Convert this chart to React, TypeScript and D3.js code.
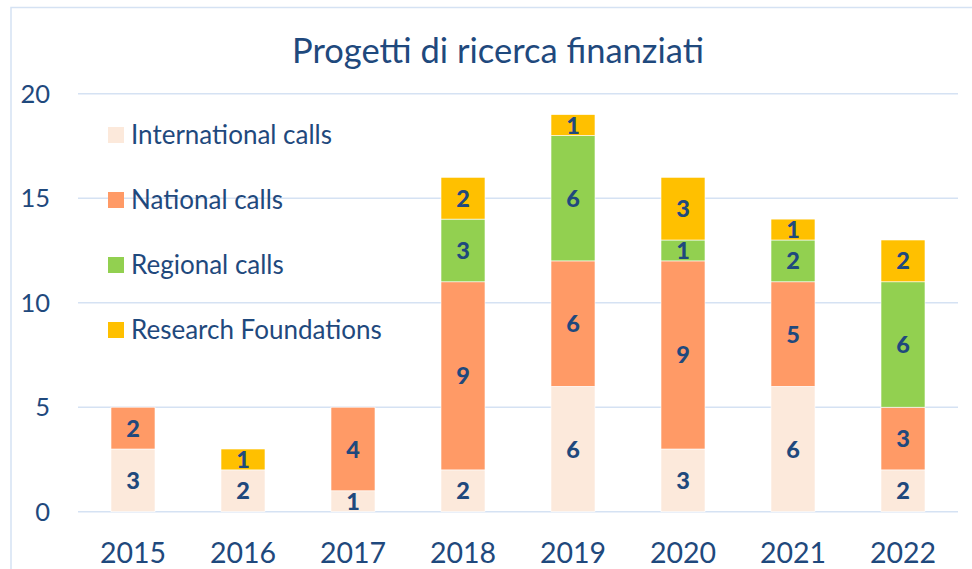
import React from "react";
import * as d3 from "d3";

const years = ["2015", "2016", "2017", "2018", "2019", "2020", "2021", "2022"];
const seriesNames = ["International calls", "National calls", "Regional calls", "Research Foundations"];
const international = [3, 2, 1, 2, 6, 3, 6, 2];
const national = [2, 0, 4, 9, 6, 9, 5, 3];
const regional = [0, 0, 0, 3, 6, 1, 2, 6];
const research = [0, 1, 0, 2, 1, 3, 1, 2];
const seriesColors = ["#FCE9DB", "#FF9A66", "#92D050", "#FFC000"];
const yTicks = [0, 5, 10, 15, 20];
const title = "Progetti di ricerca finanziati";

const W = 972;
const H = 569;
const FONT = "Lato, 'Open Sans', sans-serif";
const TEXT = "#1F497D";
const GRID = "#D5E2F3";

export default function App() {
  const x = d3.scaleBand().domain(years).range([78, 958]).paddingInner(0.6).paddingOuter(0.3);
  const y = d3.scaleLinear().domain([0, 20]).range([511.7, 93.7]);
  const data = years.map((yr, i) => ({
    year: yr,
    "International calls": international[i],
    "National calls": national[i],
    "Regional calls": regional[i],
    "Research Foundations": research[i],
  }));
  const stacked = d3.stack<any>().keys(seriesNames)(data);

  return (
    <svg width={W} height={H} style={{ position: "absolute", left: 0, top: 0, background: "#fff" }}>
      <rect x={0} y={0} width={W} height={H} fill="#fff" />
      <rect x={11} y={7.5} width={W + 10} height={H + 10} fill="none" stroke={GRID} strokeWidth={1.5} />
      <text x={498} y={63} textAnchor="middle" fontFamily={FONT} fontSize={34.5} fill={TEXT}>
        {title}
      </text>
      {yTicks.map((t) => (
        <g key={t}>
          <line x1={78} x2={958} y1={y(t)} y2={y(t)} stroke={GRID} strokeWidth={1.6} />
          <text x={50} y={y(t) + 9} textAnchor="end" fontFamily={FONT} fontSize={25.5} fill={TEXT}>
            {t}
          </text>
        </g>
      ))}
      {stacked.map((s, si) =>
        s.map((d, i) => {
          const v = d[1] - d[0];
          if (v <= 0) return null;
          const bx = x(years[i])!;
          return (
            <g key={`${si}-${i}`}>
              <rect
                x={bx}
                y={y(d[1])}
                width={x.bandwidth()}
                height={y(d[0]) - y(d[1])}
                fill={seriesColors[si]}
                stroke="#fff"
                strokeWidth={0.6}
              />
              <text
                x={bx + x.bandwidth() / 2}
                y={(y(d[0]) + y(d[1])) / 2 + 8.5}
                textAnchor="middle"
                fontFamily={FONT}
                fontWeight={900}
                fontSize={23.5}
                fill={TEXT}
              >
                {v}
              </text>
            </g>
          );
        })
      )}
      {years.map((yr) => (
        <text
          key={yr}
          x={x(yr)! + x.bandwidth() / 2}
          y={563}
          textAnchor="middle"
          fontFamily={FONT}
          fontSize={28.5}
          fill={TEXT}
        >
          {yr}
        </text>
      ))}
      {seriesNames.map((n, i) => (
        <g key={n}>
          <rect x={108} y={127 + i * 65} width={16} height={16} fill={seriesColors[i]} />
          <text x={131} y={144 + i * 65} fontFamily={FONT} fontSize={26} fill={TEXT}>
            {n}
          </text>
        </g>
      ))}
    </svg>
  );
}
